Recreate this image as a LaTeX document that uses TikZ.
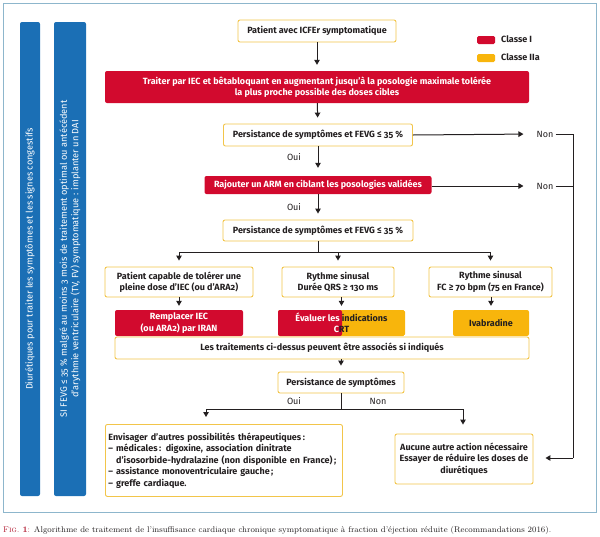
\documentclass[tikz,border=0pt]{standalone}
\usepackage{fontspec}
\setsansfont{Fira Sans}[Numbers=OldStyle]
\usetikzlibrary{arrows.meta,calc}
\definecolor{cred}{HTML}{D20A2E}
\definecolor{cyel}{HTML}{F8B50C}
\definecolor{cbord}{HTML}{F2C54A}
\definecolor{cblue}{HTML}{1B6FB5}
\definecolor{cframe}{HTML}{8DB6CC}
\definecolor{ctxt}{HTML}{231F20}
\definecolor{capred}{HTML}{B0182E}
\begin{document}
\begin{tikzpicture}[x=1pt,y=-1pt,
  every node/.style={font=\sffamily\fontsize{9}{11.5}\selectfont},
  bfont/.style={font=\sffamily\bfseries\fontsize{9}{11.5}\selectfont},
  box/.style={bfont, draw=cbord, line width=0.9pt, rounded corners=2pt, fill=white, text=ctxt, align=center, inner sep=0pt},
  redbox/.style={bfont, fill=cred, rounded corners=2pt, text=white, align=center, inner sep=0pt},
  yelbox/.style={bfont, fill=cyel, rounded corners=2pt, text=ctxt, align=center, inner sep=0pt},
  bar/.style={fill=cblue, rounded corners=2pt, text=white, rotate=90, align=center, inner sep=0pt,
              font=\sffamily\fontsize{9.2}{11.5}\selectfont},
  lab/.style={text=ctxt, inner sep=2pt},
  ln/.style={line width=1pt, ctxt},
  arr/.style={line width=1pt, ctxt, -{Triangle[length=5pt,width=5.5pt]}, shorten >=6pt}
]
\useasboundingbox (0,0) rectangle (600,536);
\draw[cframe, line width=1pt] (3,3) rectangle (596,512);

% blue side bars
\node[bar, minimum width=474pt, minimum height=20pt] (bar1) at (30,259)
  {Diurétiques pour traiter les symptômes et les signes congestifs};
\node[bar, minimum width=474pt, minimum height=32pt] (bar2) at (70,259)
  {SI FEVG ≤ 35 \% malgré au moins 3 mois de traitement optimal ou antécédent\\
   d’arythmie ventriculaire (TV, FV) symptomatique : implanter un DAI};

% legend
\node[fill=cred, rounded corners=1.5pt, minimum width=18pt, minimum height=8pt, inner sep=0pt] (leg1) at (486,40) {};
\node[bfont, text=ctxt, anchor=west, inner sep=0pt] (leg1t) at (501,39) {Classe I};
\node[fill=cyel, rounded corners=1.5pt, minimum width=18pt, minimum height=8pt, inner sep=0pt] (leg2) at (486,58) {};
\node[bfont, text=ctxt, anchor=west, inner sep=0pt] (leg2t) at (501,57.5) {Classe IIa};

% main flow
\node[box, minimum width=158pt, minimum height=22pt] (patient) at (317,31) {Patient avec ICFEr symptomatique};
\node[redbox, minimum width=424pt, minimum height=32pt] (red1) at (317,87)
  {Traiter par IEC et bêtabloquant en augmentant jusqu'à la posologie maximale tolérée\\la plus proche possible des doses cibles};
\node[box, minimum width=189pt, minimum height=22pt] (p1) at (318,135) {Persistance de symptômes et FEVG ≤ 35 \%};
\node[redbox, minimum width=227pt, minimum height=18pt] (red2) at (318,185) {Rajouter un ARM en ciblant les posologies validées};
\node[box, minimum width=190pt, minimum height=21pt] (p2) at (318,230.5) {Persistance de symptômes et FEVG ≤ 35 \%};

\node[lab] (oui1) at (294,157) {Oui};
\node[lab] (oui2) at (294,207) {Oui};
\node[lab] (non1) at (545,134) {Non};
\node[lab] (non2) at (545,186) {Non};

\node[box, minimum width=148pt, minimum height=30pt] (a) at (179,282) {Patient capable de tolérer une\\pleine dose d’IEC (ou d’ARA2)};
\node[box, minimum width=112pt, minimum height=30pt] (b) at (338,282) {Rythme sinusal\\Durée QRS ≥ 130 ms};
\node[box, minimum width=123pt, minimum height=30pt] (c) at (490.5,282) {Rythme sinusal\\FC ≥ 70 bpm (75 en France)};

\node[redbox, minimum width=128pt, minimum height=26pt] (ra) at (179,323) {Remplacer IEC\\(ou ARA2) par IRAN};
\node[bfont, minimum width=127pt, minimum height=26pt, inner sep=0pt, align=center, rounded corners=2pt,
  path picture={\fill[cyel] (path picture bounding box.south west) rectangle (path picture bounding box.north east);
                \fill[cred] (path picture bounding box.south west) rectangle ($(path picture bounding box.north west)+(64,0)$);}]
  (eval) at (341.5,323) {{\color{white}Évaluer les }{\color{ctxt}indications}\\{\color{white}C}{\color{ctxt}RT}};
\node[yelbox, minimum width=76pt, minimum height=26pt] (iva) at (491,323) {Ivabradine};

\node[box, minimum width=414pt, minimum height=22pt] (combo) at (322,348) {Les traitements ci-dessus peuvent être associés si indiqués};
\node[box, minimum width=126pt, minimum height=21pt] (p3) at (341,382.5) {Persistance de symptômes};
\node[lab] (oui3) at (294,401) {Oui};
\node[lab] (non3) at (378,401) {Non};

\node[box, align=left, anchor=north west, minimum width=237pt, minimum height=72pt, text width=231pt, inner xsep=3pt] (env) at (105,424)
  {Envisager d’autres possibilités thérapeutiques\,:\\
   – médicales\,: digoxine, association dinitrate\\
   \phantom{– }d’isosorbide-hydralazine (non disponible en France)\,;\\
   – assistance monoventriculaire gauche\,;\\
   – greffe cardiaque.};
\node[box, minimum width=138pt, minimum height=50pt] (auc) at (464,459)
  {Aucune autre action nécessaire\\Essayer de réduire les doses de\\diurétiques};

% connectors
\draw[arr] (patient) -- (red1);
\draw[arr] (red1) -- (p1);
\draw[arr, shorten >=8pt] (p1) -- (red2);
\draw[arr] (red2) -- (p2);
\draw[arr, shorten >=11pt] (p1.east) -- (non1.west);
\draw[arr, shorten >=11pt] (red2.east |- non2) -- (non2.west);
\coordinate (r1) at (573,134);
\coordinate (r2) at (573,458);
\draw[ln] (non1.east) -- (r1) -- (r2);
\draw[ln] (non2.east) -- (non2.east -| r1);
\draw[arr, shorten >=12pt] (r2) -- (r2 -| auc.east);

\coordinate (s2) at (318,252);
\draw[ln] (p2.south) -- (s2);
\draw[ln] (s2 -| a.north) -- (s2 -| c.north);
\draw[arr] (s2 -| a.north) -- (a.north);
\draw[arr] (s2 -| b.north) -- (b.north);
\draw[arr] (s2 -| c.north) -- (c.north);
\draw[arr, shorten >=4pt] (a.south) -- (ra.north);
\draw[arr, shorten >=4pt] (eval.north |- b.south) -- (eval.north);
\draw[arr, shorten >=4pt] (iva.north |- c.south) -- (iva.north);
\draw[arr] (p3.north |- combo.south) -- (p3.north);

\coordinate (s3) at (341,409);
\coordinate (s3l) at (206,409);
\coordinate (s3r) at (463,409);
\draw[ln] (p3.south) -- (s3);
\draw[ln] (s3l) -- (s3r);
\draw[arr, shorten >=7pt] (s3l) -- (s3l |- env.north);
\draw[arr, shorten >=9pt] (s3r) -- (s3r |- auc.north);

% caption
\node[anchor=west, inner sep=0pt, text=ctxt, font=\rmfamily\fontsize{8.3}{10}\selectfont] (cap) at (3,530)
  {{\color{capred}\textsc{Fig.}~\textbf{1}:} Algorithme de traitement de l’insuffisance cardiaque chronique symptomatique à fraction d’éjection réduite (Recommandations \oldstylenums{2016}).};
\end{tikzpicture}
\end{document}
